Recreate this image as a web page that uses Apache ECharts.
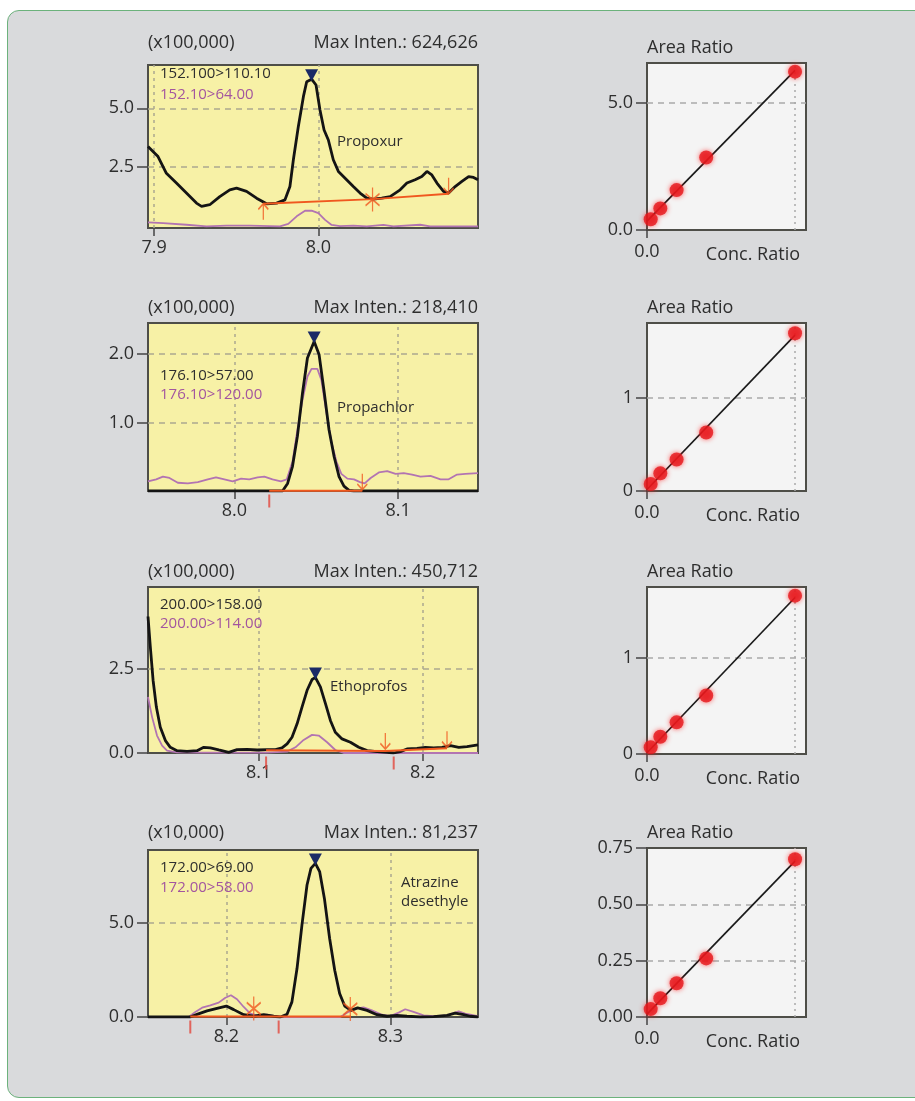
<!DOCTYPE html>
<html>
<head>
<meta charset="utf-8">
<script src="https://cdn.jsdelivr.net/npm/echarts/dist/echarts.min.js"></script>
<style>
html,body{margin:0;padding:0;background:#ffffff;width:915px;height:1101px;overflow:hidden;}
#frame{position:absolute;left:7px;top:10px;width:940px;height:1086px;background:#d9dadc;border:1.5px solid #6cb27c;border-radius:12px;}
#chart{position:absolute;left:0;top:0;width:915px;height:1101px;}
</style>
</head>
<body>
<div id="frame"></div>
<div id="chart"></div>
<script>
// ---------------- DATA ----------------
// Propoxur
const propoxurQuantT = [7.8963,7.9024,7.9075,7.9136,7.9197,7.9258,7.9289,7.9339,7.9400,7.9461,7.9502,7.9563,7.9624,7.9685,7.9746,7.9797,7.9827,7.9848,7.9878,7.9909,7.9929,7.9959,7.9986,8.0010,8.0035,8.0061,8.0091,8.0122,8.0163,8.0213,8.0254,8.0295,8.0335,8.0386,8.0437,8.0498,8.0539,8.0589,8.0630,8.0661,8.0691,8.0722,8.0762,8.0793,8.0833,8.0874,8.0915,8.0945,8.0972];
const propoxurQuantI = [3.36,2.93,2.21,1.79,1.36,0.93,0.79,0.86,1.21,1.50,1.57,1.43,1.14,0.90,0.93,1.07,1.64,2.79,4.21,5.50,6.14,6.25,6.00,4.93,4.07,3.64,2.79,2.29,2.00,1.64,1.36,1.14,1.10,1.14,1.21,1.50,1.79,1.93,2.07,2.29,2.14,1.79,1.43,1.36,1.64,1.86,2.07,2.03,1.93];
const propoxurQualT = [7.8963,7.9055,7.9197,7.9319,7.9441,7.9583,7.9766,7.9817,7.9868,7.9919,7.9959,8.0000,8.0041,8.0081,8.0132,8.0213,8.0295,8.0396,8.0457,8.0620,8.0681,8.0803,8.0972];
const propoxurQualI = [0.10,0.07,0.00,-0.07,-0.04,-0.04,-0.07,0.04,0.36,0.60,0.61,0.50,0.21,-0.01,-0.06,-0.04,-0.07,-0.01,-0.07,0.00,-0.07,-0.07,-0.07];
const propoxurBaseT = [7.9665,8.0335,8.0793];
const propoxurBaseI = [0.90,1.10,1.33];
const propoxurMarkT = [7.9665,8.0330,8.0793];
const propoxurMarkI = [0.90,1.08,1.33];
const propoxurMarkKind = ['up','star','down'];
const propoxurXTicks = [7.9,8.0];
const propoxurYTicks = [2.5,5.0];

// Propachlor
const propachlorQuantT = [7.9473,8.0294,8.0325,8.0355,8.0385,8.0416,8.0446,8.0487,8.0517,8.0548,8.0578,8.0609,8.0639,8.0669,8.0700,8.0730,8.1487];
const propachlorQuantI = [0,0,0.11,0.36,0.80,1.43,1.94,2.18,1.99,1.45,0.89,0.50,0.21,0.07,0.01,0,0];
const propachlorQualT = [7.9473,7.9523,7.9564,7.9604,7.9655,7.9716,7.9777,7.9838,7.9888,7.9939,7.9990,8.0041,8.0091,8.0142,8.0183,8.0233,8.0284,8.0320,8.0355,8.0385,8.0416,8.0446,8.0471,8.0507,8.0531,8.0562,8.0592,8.0623,8.0653,8.0690,8.0730,8.0767,8.0795,8.0832,8.0882,8.0933,8.0984,8.1034,8.1085,8.1136,8.1197,8.1258,8.1308,8.1359,8.1410,8.1487];
const propachlorQualI = [0.14,0.17,0.21,0.19,0.12,0.11,0.13,0.17,0.20,0.17,0.14,0.18,0.17,0.20,0.21,0.17,0.14,0.17,0.43,0.89,1.33,1.67,1.78,1.78,1.62,1.14,0.72,0.43,0.25,0.18,0.17,0.13,0.11,0.19,0.27,0.29,0.25,0.26,0.24,0.21,0.22,0.17,0.17,0.24,0.25,0.26];
const propachlorBaseT = [8.0213,8.0781];
const propachlorBaseI = [0.005,0.005];
const propachlorMarkT = [8.0213,8.0781];
const propachlorMarkI = [null,0.02];
const propachlorMarkKind = ['tick','down'];
const propachlorXTicks = [8.0,8.1];
const propachlorYTicks = [1.0,2.0];

// Ethoprofos
const ethoprofosQuantT = [8.0325,8.0339,8.0356,8.0376,8.0400,8.0431,8.0461,8.0502,8.0563,8.0624,8.0665,8.0705,8.0756,8.0817,8.0868,8.0929,8.0990,8.1051,8.1102,8.1142,8.1173,8.1203,8.1234,8.1264,8.1295,8.1325,8.1346,8.1376,8.1407,8.1437,8.1467,8.1508,8.1559,8.1610,8.1661,8.1722,8.1783,8.1823,8.1864,8.1904,8.1965,8.2016,8.2067,8.2118,8.2169,8.2220,8.2270,8.2337];
const ethoprofosQuantI = [4.07,3.17,2.17,1.37,0.77,0.37,0.17,0.07,0.05,0.07,0.17,0.15,0.09,0.02,0.10,0.11,0.09,0.10,0.10,0.15,0.27,0.47,0.87,1.37,1.87,2.19,2.25,1.97,1.47,0.97,0.62,0.42,0.32,0.17,0.07,0.04,0.02,0.00,0.04,0.12,0.14,0.17,0.15,0.17,0.22,0.17,0.19,0.24];
const ethoprofosQualT = [8.0325,8.0350,8.0380,8.0411,8.0441,8.0502,8.0644,8.0848,8.1051,8.1173,8.1224,8.1274,8.1325,8.1366,8.1417,8.1467,8.1518,8.2337];
const ethoprofosQualI = [1.67,1.07,0.52,0.22,0.07,0.02,0.01,0.01,0.01,0.04,0.17,0.39,0.54,0.52,0.32,0.09,0.00,0.00];
const ethoprofosBaseT = [8.1045,8.1772,8.2148];
const ethoprofosBaseI = [0.08,0.06,0.14];
const ethoprofosMarkT = [8.1045,8.1823,8.1772,8.2148];
const ethoprofosMarkI = [null,null,0.12,0.17];
const ethoprofosMarkKind = ['tick','tick','down','down'];
const ethoprofosXTicks = [8.1,8.2];
const ethoprofosYTicks = [0.0,2.5];

// Atrazine desethyle
const atrazineQuantT = [8.1522,8.1780,8.1821,8.1882,8.1943,8.2000,8.2045,8.2106,8.2167,8.2228,8.2289,8.2329,8.2370,8.2400,8.2431,8.2461,8.2492,8.2516,8.2543,8.2569,8.2598,8.2630,8.2661,8.2691,8.2722,8.2760,8.2801,8.2858,8.2919,8.2980,8.3041,8.3102,8.3183,8.3264,8.3346,8.3396,8.3447,8.3488,8.3535];
const atrazineQuantI = [0,0,0.14,0.32,0.46,0.58,0.39,0.12,0.04,0.12,0.04,0,0.14,0.80,2.56,4.86,6.98,7.86,8.12,7.69,6.27,4.15,2.47,1.24,0.58,0.35,0.48,0.35,0.12,0.04,0.09,0.05,0,0.02,0.09,0.21,0.12,0.04,0];
const atrazineQualT = [8.1522,8.1770,8.1811,8.1852,8.1902,8.1953,8.1994,8.2028,8.2065,8.2106,8.2146,8.2187,8.2248,8.2309,8.2370,8.2695,8.2736,8.2787,8.2837,8.2888,8.2949,8.3000,8.3051,8.3091,8.3142,8.3203,8.3264,8.3346,8.3417,8.3457,8.3535];
const atrazineQualI = [0,0,0.27,0.49,0.62,0.76,1.02,1.15,0.94,0.53,0.18,0.09,0.12,0.02,0,0,0.23,0.44,0.51,0.35,0.12,0.05,0.23,0.41,0.27,0.09,0.04,0.09,0.30,0.18,0.04];
const atrazineBaseT = [8.1780,8.2760];
const atrazineBaseI = [0.02,0.02];
const atrazineMarkT = [8.1780,8.2319,8.2167,8.2756];
const atrazineMarkI = [null,null,0.45,0.42];
const atrazineMarkKind = ['tick','tick','star','star'];
const atrazineXTicks = [8.2,8.3];
const atrazineYTicks = [0.0,5.0];

// Calibration curves
const concRatio = [0.025,0.09,0.2,0.4,1.0];
const propoxurArea = [0.42,0.85,1.57,2.85,6.23];
const propachlorArea = [0.075,0.19,0.34,0.63,1.70];
const ethoprofosArea = [0.07,0.18,0.33,0.61,1.65];
const atrazineArea = [0.035,0.083,0.15,0.26,0.70];
const calYTicks1 = [0,5];
const calYTicks2 = [0,1];
const calYTicks3 = [0,1];
const calYTicks4 = [0,0.25,0.5,0.75];
const calXTicks = [0];
const calXGrid = [1.0];

// ---------------- LAYOUT / STYLE ----------------
const FONT = '"Open Sans", "Noto Sans", sans-serif';
const TXT = '#2e2e2e';
const PURPLE_TXT = '#a3569f';
const PURPLE = '#b274b2';
const BLACK = '#141414';
const ORANGE = '#f0581f';
const TICKRED = '#e2463c';
const BORDER = '#4e4e48';
const YELLOW = '#f7f1a6';
const CALBG = '#f4f4f4';
const BIG = 18, SMALL = 15;

const zip = (a, b) => a.map((v, i) => [v, b[i]]);

const chroms = [
  {qT:propoxurQuantT,qI:propoxurQuantI,lT:propoxurQualT,lI:propoxurQualI,bT:propoxurBaseT,bI:propoxurBaseI,
   mT:propoxurMarkT,mI:propoxurMarkI,mK:propoxurMarkKind,xTicks:propoxurXTicks,yTicks:propoxurYTicks,
   xMin:7.8963,xMax:8.0972,yMin:-0.14,yMax:6.86,top:65,height:163,
   scale:'(x100,000)',maxInten:'Max Inten.: 624,626',quant:'152.100>110.10',qual:'152.10>64.00',
   headY:43,legY:[74,95],names:['Propoxur'],nameX:337,nameY:[142]},
  {qT:propachlorQuantT,qI:propachlorQuantI,lT:propachlorQualT,lI:propachlorQualI,bT:propachlorBaseT,bI:propachlorBaseI,
   mT:propachlorMarkT,mI:propachlorMarkI,mK:propachlorMarkKind,xTicks:propachlorXTicks,yTicks:propachlorYTicks,
   xMin:7.9473,xMax:8.1487,yMin:0,yMax:2.45,top:323,height:168,
   scale:'(x100,000)',maxInten:'Max Inten.: 218,410',quant:'176.10>57.00',qual:'176.10>120.00',
   headY:308,legY:[376,395],names:['Propachlor'],nameX:337,nameY:[408]},
  {qT:ethoprofosQuantT,qI:ethoprofosQuantI,lT:ethoprofosQualT,lI:ethoprofosQualI,bT:ethoprofosBaseT,bI:ethoprofosBaseI,
   mT:ethoprofosMarkT,mI:ethoprofosMarkI,mK:ethoprofosMarkKind,xTicks:ethoprofosXTicks,yTicks:ethoprofosYTicks,
   xMin:8.0325,xMax:8.2337,yMin:0,yMax:4.95,top:587,height:166,
   scale:'(x100,000)',maxInten:'Max Inten.: 450,712',quant:'200.00>158.00',qual:'200.00>114.00',
   headY:572,legY:[605,624],names:['Ethoprofos'],nameX:330,nameY:[687]},
  {qT:atrazineQuantT,qI:atrazineQuantI,lT:atrazineQualT,lI:atrazineQualI,bT:atrazineBaseT,bI:atrazineBaseI,
   mT:atrazineMarkT,mI:atrazineMarkI,mK:atrazineMarkKind,xTicks:atrazineXTicks,yTicks:atrazineYTicks,
   xMin:8.1522,xMax:8.3535,yMin:0,yMax:8.83,top:850,height:167,
   scale:'(x10,000)',maxInten:'Max Inten.: 81,237',quant:'172.00>69.00',qual:'172.00>58.00',
   headY:833,legY:[868,888],names:['Atrazine','desethyle'],nameX:401,nameY:[883,902]}
];

const cals = [
  {area:propoxurArea,yTicks:calYTicks1,yMax:6.57,dec:1,top:63,height:167},
  {area:propachlorArea,yTicks:calYTicks2,yMax:1.81,dec:0,top:323,height:168},
  {area:ethoprofosArea,yTicks:calYTicks3,yMax:1.74,dec:0,top:587,height:167},
  {area:atrazineArea,yTicks:calYTicks4,yMax:0.75,dec:2,top:848,height:169}
];

const LX = 148, LW = 330, RX = 647, RW = 159;
const CAL_XMAX = 1.074;

const MARK_SYMBOL = {
  up:   {symbol:'path://M5,0L5,20M0,7L5,0L10,7', size:[10,16], off:[0,8]},
  down: {symbol:'path://M5,20L5,0M0,13L5,20L10,13', size:[10,16], off:[0,-8]},
  star: {symbol:'path://M6,0L6,24M0,6L12,18M0,18L12,6', size:[14,24], off:[0,0]}
};

const grids = [], xAxes = [], yAxes = [], series = [], graphics = [];

function txt(x, y, text, opts) {
  opts = opts || {};
  graphics.push({
    type:'text', x:x, y:y, silent:true, z:10,
    style:{text:text, fill:opts.fill||TXT, font:(opts.weight||'normal')+' '+(opts.size||BIG)+'px '+FONT,
      textAlign:opts.align||'left', textVerticalAlign:'middle', align:opts.align||'left', verticalAlign:'middle'}
  });
}

const axisLabelStyle = {color:TXT, fontSize:BIG, fontFamily:FONT};

chroms.forEach((c, i) => {
  grids.push({left:LX, top:c.top, width:LW, height:c.height, show:true, backgroundColor:YELLOW,
    borderColor:BORDER, borderWidth:2, containLabel:false, outerBoundsMode:'none'});
  xAxes.push({type:'value', gridIndex:i, min:c.xMin, max:c.xMax,
    axisLine:{show:true, onZero:false, lineStyle:{color:BORDER, width:2}},
    axisTick:{show:true, customValues:c.xTicks, length:8, lineStyle:{color:'#444', width:1.5}},
    axisLabel:Object.assign({show:true, customValues:c.xTicks, formatter:v => Number(v).toFixed(1), margin:11}, axisLabelStyle),
    splitLine:{show:false}});
  yAxes.push({type:'value', gridIndex:i, min:c.yMin, max:c.yMax,
    axisLine:{show:true, onZero:false, lineStyle:{color:BORDER, width:2}},
    axisTick:{show:true, customValues:c.yTicks, length:11, lineStyle:{color:'#444', width:1.5}},
    axisLabel:Object.assign({show:true, customValues:c.yTicks, formatter:v => Number(v).toFixed(1), margin:14}, axisLabelStyle),
    splitLine:{show:false}});

  const gridLines = c.xTicks.map(v => ({xAxis:v, lineStyle:{type:[3,4]}}))
    .concat(c.yTicks.filter(v => v > c.yMin + 0.05).map(v => ({yAxis:v, lineStyle:{type:[6,5]}})));

  // qualifier (purple) trace with grid lines
  series.push({type:'line', xAxisIndex:i, yAxisIndex:i, data:zip(c.lT, c.lI), symbol:'none', z:2,
    lineStyle:{color:PURPLE, width:1.8},
    markLine:{silent:true, symbol:'none', z:1, label:{show:false}, animation:false,
      lineStyle:{color:'#aca890', width:1.5}, data:gridLines}});
  // quantifier (black) trace with peak marker (apex inside the integration window)
  const w0 = c.bT[0], w1 = c.bT[c.bT.length - 1];
  let pk = -1;
  c.qI.forEach((v, k) => {
    if (c.qT[k] >= w0 && c.qT[k] <= w1 && (pk < 0 || v > c.qI[pk])) pk = k;
  });
  series.push({type:'line', xAxisIndex:i, yAxisIndex:i, data:zip(c.qT, c.qI), symbol:'none', z:3,
    lineStyle:{color:BLACK, width:2.8},
    markPoint:{silent:true, symbol:'triangle', symbolRotate:180, symbolSize:[13,12], symbolOffset:[0,-4],
      itemStyle:{color:'#1b2a66'}, label:{show:false}, data:[{coord:[c.qT[pk], c.qI[pk]]}]}});
  // integration baseline
  series.push({type:'line', xAxisIndex:i, yAxisIndex:i, data:zip(c.bT, c.bI), symbol:'none', z:4,
    lineStyle:{color:ORANGE, width:2}});
  // integration markers
  const marks = c.mT.map((t, k) => {
    const kind = c.mK[k];
    if (kind === 'tick') {
      return {value:[t, c.yMin], symbol:'rect', symbolSize:[2,13], symbolOffset:[0,10],
        itemStyle:{color:TICKRED, borderWidth:0}};
    }
    const s = MARK_SYMBOL[kind];
    return {value:[t, c.mI[k]], symbol:s.symbol, symbolSize:s.size, symbolOffset:s.off,
      itemStyle:{color:'rgba(0,0,0,0)', borderColor:ORANGE, borderWidth:1.6}};
  });
  series.push({type:'scatter', xAxisIndex:i, yAxisIndex:i, data:marks, clip:false, z:5, silent:true});

  // texts
  txt(LX, c.headY, c.scale);
  txt(LX + LW, c.headY, c.maxInten, {align:'right'});
  txt(160, c.legY[0], c.quant, {size:SMALL});
  txt(160, c.legY[1], c.qual, {size:SMALL, fill:PURPLE_TXT});
  c.names.forEach((n, k) => txt(c.nameX, c.nameY[k], n, {size:SMALL}));
});

cals.forEach((c, j) => {
  const gi = 4 + j;
  const yMax = c.yMax;
  grids.push({left:RX, top:c.top, width:RW, height:c.height, show:true, backgroundColor:CALBG,
    borderColor:BORDER, borderWidth:2, containLabel:false, outerBoundsMode:'none'});
  xAxes.push({type:'value', gridIndex:gi, min:0, max:CAL_XMAX,
    axisLine:{show:true, onZero:false, lineStyle:{color:BORDER, width:2}},
    axisTick:{show:true, customValues:calXTicks, length:8, lineStyle:{color:'#444', width:1.5}},
    axisLabel:Object.assign({show:true, customValues:calXTicks, formatter:v => Number(v).toFixed(1), margin:13}, axisLabelStyle),
    splitLine:{show:false},
    name:'Conc. Ratio', nameLocation:'end', nameGap:-6,
    nameTextStyle:Object.assign({align:'right', verticalAlign:'top', padding:[16,0,0,0]}, axisLabelStyle)});
  yAxes.push({type:'value', gridIndex:gi, min:0, max:yMax,
    axisLine:{show:true, onZero:false, lineStyle:{color:BORDER, width:2}},
    axisTick:{show:true, customValues:c.yTicks, length:11, lineStyle:{color:'#444', width:1.5}},
    axisLabel:Object.assign({show:true, customValues:c.yTicks, formatter:v => Number(v).toFixed(c.dec), margin:14}, axisLabelStyle),
    splitLine:{show:false},
    name:'Area Ratio', nameLocation:'end', nameGap:6,
    nameTextStyle:Object.assign({align:'left', verticalAlign:'bottom'}, axisLabelStyle)});

  const calGrid = calXGrid.map(v => ({xAxis:v, lineStyle:{type:[2,4]}}))
    .concat(c.yTicks.filter(v => v > 0 && v < yMax - 1e-6).map(v => ({yAxis:v, lineStyle:{type:[6,5]}})));

  // least-squares calibration line
  const n = concRatio.length;
  const mx = concRatio.reduce((a, b) => a + b, 0) / n;
  const my = c.area.reduce((a, b) => a + b, 0) / n;
  let sxy = 0, sxx = 0;
  concRatio.forEach((x, k) => { sxy += (x - mx) * (c.area[k] - my); sxx += (x - mx) * (x - mx); });
  const slope = sxy / sxx, icpt = my - slope * mx;
  const xEnd = concRatio[n - 1];
  series.push({type:'line', xAxisIndex:gi, yAxisIndex:gi, symbol:'none', z:3,
    data:[[0, Math.max(0, icpt)], [xEnd, icpt + slope * xEnd]], lineStyle:{color:'#1a1a1a', width:1.7},
    markLine:{silent:true, symbol:'none', z:1, label:{show:false}, animation:false,
      lineStyle:{color:'#a9a9a9', width:1.5}, data:calGrid}});
  series.push({type:'scatter', xAxisIndex:gi, yAxisIndex:gi, data:zip(concRatio, c.area), symbol:'circle',
    symbolSize:14, z:4, clip:false,
    itemStyle:{color:'#e5161c', shadowBlur:5, shadowColor:'rgba(255,30,30,0.85)'}});
});

const chart = echarts.init(document.getElementById('chart'), null, {renderer:'canvas', width:915, height:1101});
chart.setOption({
  backgroundColor:'transparent',
  animation:false,
  textStyle:{fontFamily:FONT},
  grid:grids, xAxis:xAxes, yAxis:yAxes, series:series, graphic:graphics
});
</script>
</body>
</html>
